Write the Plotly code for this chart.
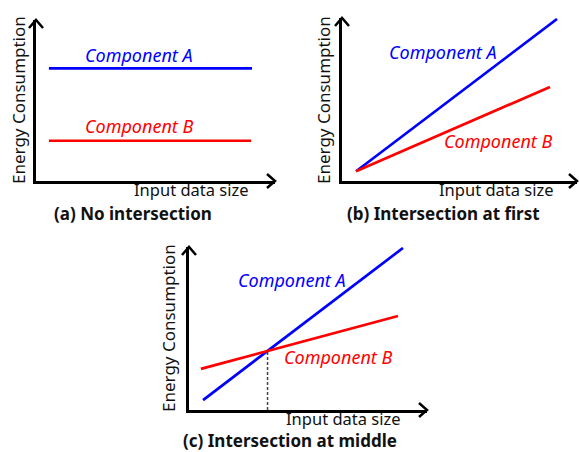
import plotly.graph_objects as go

W, H = 579, 452

# ---- data (abstract units, each panel axis runs 0..10) ----
a_compA_x = [0.54, 9.04]
a_compA_y = [7.0, 7.0]
a_compB_x = [0.54, 9.0]
a_compB_y = [2.5, 2.5]

b_compA_x = [0.6, 9.15]
b_compA_y = [0.6, 9.94]
b_compB_x = [0.6, 8.85]
b_compB_y = [0.6, 5.77]

c_compA_x = [0.59, 8.99]
c_compA_y = [0.61, 9.94]
c_compB_x = [0.5, 8.78]
c_compB_y = [2.52, 5.77]
c_cross_x = [3.3, 3.3]
c_cross_y = [0.0, 3.62]

panel_titles = ["(a) No intersection", "(b) Intersection at first", "(c) Intersection at middle"]
x_label = "Input data size"
y_label = "Energy Consumption"
series_names = ["Component A", "Component B"]

BLUE = "#0000ff"
RED = "#ff0000"
FONT = "Noto Sans"


def fx(px):
    return px / W


def fy(py):
    return 1 - py / H


# pixel boxes of each panel: (left, right, top, bottom)
boxes = {
    "a": (36, 275, 20, 181),
    "b": (342, 577, 18, 181),
    "c": (189, 427, 247, 410),
}

fig = go.Figure()
axis_names = {"a": ("x", "y"), "b": ("x2", "y2"), "c": ("x3", "y3")}

series = {
    "a": [(a_compA_x, a_compA_y), (a_compB_x, a_compB_y)],
    "b": [(b_compA_x, b_compA_y), (b_compB_x, b_compB_y)],
    "c": [(c_compA_x, c_compA_y), (c_compB_x, c_compB_y)],
}

fig.add_trace(go.Scatter(x=c_cross_x, y=c_cross_y, mode="lines",
                         line=dict(color="#444444", width=1.5, dash="3px,2px"),
                         xaxis="x3", yaxis="y3", showlegend=False, hoverinfo="skip"))

for key, (xa, ya) in axis_names.items():
    for (xs, ys), col, name in zip(series[key], [BLUE, RED], series_names):
        fig.add_trace(go.Scatter(x=xs, y=ys, mode="lines", name=name,
                                 line=dict(color=col, width=2.7),
                                 xaxis=xa, yaxis=ya, showlegend=False,
                                 hoverinfo="skip"))

layout = dict(width=W, height=H, margin=dict(l=0, r=0, t=0, b=0),
              paper_bgcolor="white", plot_bgcolor="white", showlegend=False)

for i, key in enumerate(["a", "b", "c"]):
    l, r, t, b = boxes[key]
    sfx = "" if i == 0 else str(i + 1)
    common = dict(range=[0, 10], showline=True, linecolor="black", linewidth=2.5,
                  showticklabels=False, showgrid=False, zeroline=False, ticks="",
                  fixedrange=True)
    layout["xaxis" + sfx] = dict(domain=[fx(l), fx(r)], anchor="y" + sfx, **common)
    layout["yaxis" + sfx] = dict(domain=[fy(b), fy(t)], anchor="x" + sfx, **common)

fig.update_layout(**layout)

shapes = []
annotations = []

# label positions in pixels
label_pos = {
    "a": dict(A=(138.5, 55), B=(139, 126), xl=(191, 189.5), title=(132.5, 213.5), yl=(18, 100)),
    "b": dict(A=(443, 52), B=(497.5, 141), xl=(496, 189.5), title=(443, 213.5), yl=(323, 100)),
    "c": dict(A=(292, 280), B=(337.5, 357), xl=(343.5, 418.5), title=(290, 440.8), yl=(168, 328)),
}

for key in ["a", "b", "c"]:
    l, r, t, b = boxes[key]
    # arrowheads (x axis at right end, y axis at top end)
    shapes.append(dict(type="path", xref="paper", yref="paper",
                       xsizemode="pixel", ysizemode="pixel",
                       xanchor=fx(r), yanchor=fy(b),
                       path="M -8,7 L 0,0 L -8,-7",
                       line=dict(color="black", width=2.5)))
    shapes.append(dict(type="path", xref="paper", yref="paper",
                       xsizemode="pixel", ysizemode="pixel",
                       xanchor=fx(l), yanchor=fy(t),
                       path="M -7,-8 L 0,0 L 7,-8",
                       line=dict(color="black", width=2.5)))
    p = label_pos[key]
    for lab, col, name in [("A", BLUE, series_names[0]), ("B", RED, series_names[1])]:
        x, y = p[lab]
        annotations.append(dict(xref="paper", yref="paper", x=fx(x), y=fy(y),
                                text="<i>" + name + "</i>", showarrow=False,
                                font=dict(family=FONT, size=18, color=col),
                                xanchor="center", yanchor="middle", borderpad=0))
    x, y = p["xl"]
    annotations.append(dict(xref="paper", yref="paper", x=fx(x), y=fy(y),
                            text=x_label, showarrow=False,
                            font=dict(family=FONT, size=16.5, color="#111111"),
                            xanchor="center", yanchor="middle", borderpad=0))
    x, y = p["yl"]
    annotations.append(dict(xref="paper", yref="paper", x=fx(x), y=fy(y),
                            text=y_label, showarrow=False, textangle=-90,
                            font=dict(family=FONT, size=17, color="#111111"),
                            xanchor="center", yanchor="middle", borderpad=0))
    x, y = p["title"]
    annotations.append(dict(xref="paper", yref="paper", x=fx(x), y=fy(y),
                            text="<b>" + panel_titles["abc".index(key)] + "</b>",
                            showarrow=False,
                            font=dict(family=FONT, size=17, color="#111111"),
                            xanchor="center", yanchor="middle", borderpad=0))

fig.update_layout(shapes=shapes, annotations=annotations)
fig.write_html("out.html", config={"displayModeBar": False},
               post_script="document.body.style.margin='0';document.body.style.overflow='hidden';")
